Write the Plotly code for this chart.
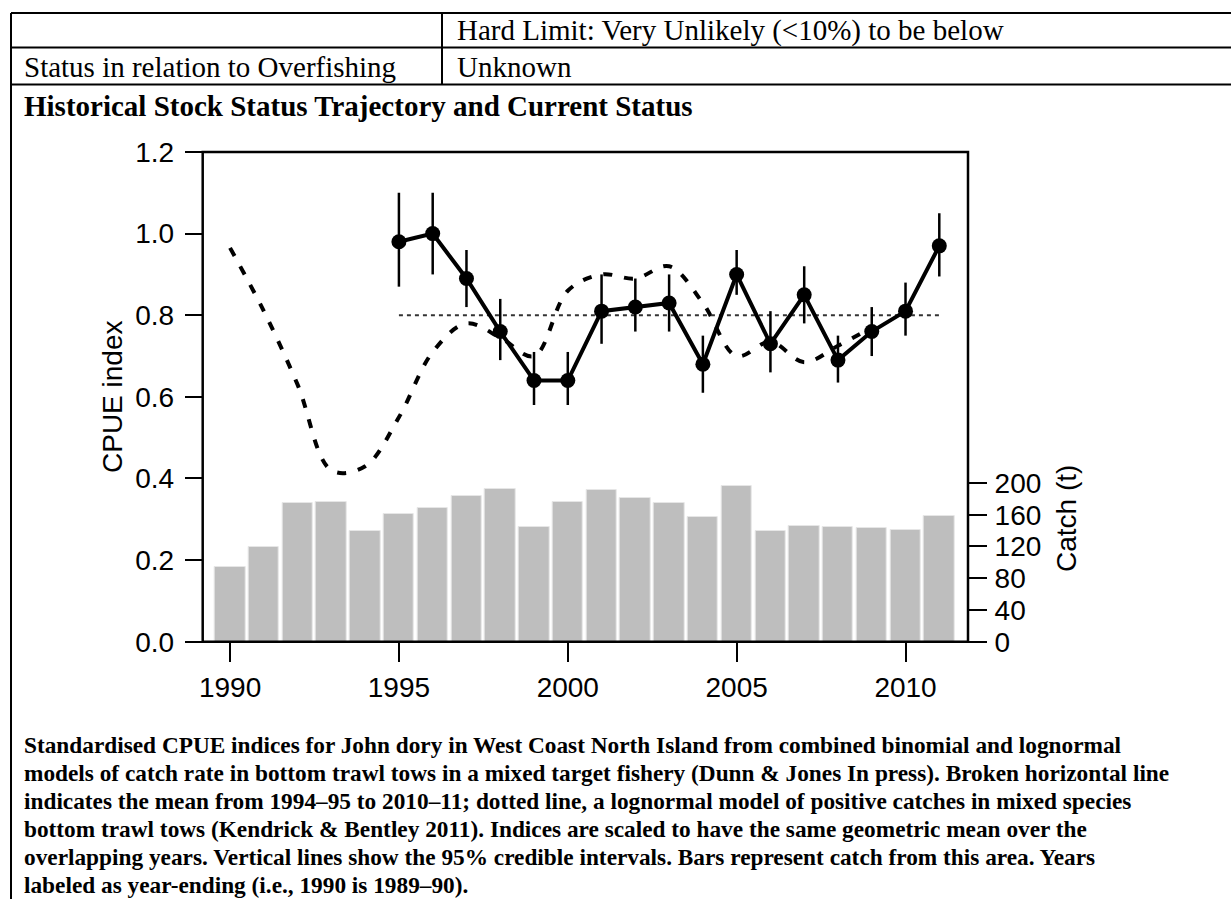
import plotly.graph_objects as go

# ---------------- data ----------------
catch_years = list(range(1990, 2012))
catch_t = [94, 119, 175, 176, 139, 161, 168, 184, 193, 144, 176, 191,
           181, 175, 157, 196, 139, 146, 145, 143, 141, 158]

cpue_years = list(range(1995, 2012))
cpue = [0.98, 1.00, 0.89, 0.76, 0.64, 0.64, 0.81, 0.82, 0.83, 0.68,
        0.90, 0.73, 0.85, 0.69, 0.76, 0.81, 0.97]
cpue_lower = [0.87, 0.90, 0.82, 0.69, 0.58, 0.58, 0.73, 0.76, 0.76, 0.61,
              0.85, 0.66, 0.78, 0.635, 0.70, 0.75, 0.895]
cpue_upper = [1.10, 1.10, 0.96, 0.84, 0.71, 0.71, 0.90, 0.89, 0.90, 0.75,
              0.96, 0.81, 0.92, 0.75, 0.82, 0.88, 1.05]

kb_years = list(range(1990, 2010))
kb_index = [0.965, 0.81, 0.63, 0.42, 0.43, 0.55, 0.71, 0.78, 0.745, 0.70,
            0.86, 0.90, 0.89, 0.92, 0.83, 0.70, 0.735, 0.685, 0.725, 0.77]

mean_years = [1995, 2011]
mean_value = 0.80

x_ticks = [1990, 1995, 2000, 2005, 2010]
cpue_ticks = [0.0, 0.2, 0.4, 0.6, 0.8, 1.0, 1.2]
cpue_ticktext = ["0.0", "0.2", "0.4", "0.6", "0.8", "1.0", "1.2"]
catch_ticks = [0, 40, 80, 120, 160, 200]

table_row1 = "Hard Limit: Very Unlikely (&lt;10%) to be below"
table_row2_left = "Status in relation to Overfishing"
table_row2_right = "Unknown"
section_title = "Historical Stock Status Trajectory and Current Status"
caption_lines = [
    "Standardised CPUE indices for John dory in West Coast North Island from combined binomial and lognormal",
    "models of catch rate in bottom trawl tows in a mixed target fishery (Dunn &amp; Jones In press). Broken horizontal line",
    "indicates the mean from 1994\u201395 to 2010\u201311; dotted line, a lognormal model of positive catches in mixed species",
    "bottom trawl tows (Kendrick &amp; Bentley 2011). Indices are scaled to have the same geometric mean over the",
    "overlapping years. Vertical lines show the 95% credible intervals. Bars represent catch from this area. Years",
    "labeled as year-ending (i.e., 1990 is 1989\u201390).",
]

# ---------------- layout helpers ----------------
W, H = 1231, 899


def px(x):
    return x / W


def py(y):
    return 1 - y / H


SANS = "Liberation Sans, Arial, sans-serif"
SERIF = "Liberation Serif, Times New Roman, serif"

plot_left, plot_right = 202.7, 968.0
plot_top, plot_bottom = 152.0, 641.7

fig = go.Figure()

# bars (catch) on primary y (right side)
fig.add_trace(go.Bar(
    x=catch_years, y=catch_t, width=0.9,
    marker=dict(color="#BEBEBE", line=dict(color="#E6E6E6", width=1)),
    yaxis="y", xaxis="x", showlegend=False, hoverinfo="skip"))

# Kendrick & Bentley (dashed, smoothed)
fig.add_trace(go.Scatter(
    x=kb_years, y=kb_index, mode="lines", yaxis="y2",
    line=dict(color="black", width=4, dash="9px,12px", shape="spline", smoothing=1.0),
    showlegend=False))

# mean dotted line
fig.add_trace(go.Scatter(
    x=mean_years, y=[mean_value, mean_value], mode="lines", yaxis="y2",
    line=dict(color="#333333", width=2, dash="4px,4px"),
    showlegend=False))

# CPUE with CIs
fig.add_trace(go.Scatter(
    x=cpue_years, y=cpue, mode="lines+markers", yaxis="y2",
    line=dict(color="black", width=4),
    marker=dict(color="black", size=15),
    error_y=dict(type="data", symmetric=False,
                 array=[u - v for u, v in zip(cpue_upper, cpue)],
                 arrayminus=[v - l for v, l in zip(cpue, cpue_lower)],
                 width=0, thickness=2.5, color="black"),
    showlegend=False))

fig.update_layout(
    width=W, height=H,
    margin=dict(l=0, r=0, t=0, b=0, pad=0, autoexpand=False),
    paper_bgcolor="white", plot_bgcolor="white",
    bargap=0,
    xaxis=dict(domain=[px(plot_left), px(plot_right)],
               range=[1989.19, 2011.85], automargin=False,
               tickvals=x_ticks, ticks="outside", ticklen=19, tickwidth=2,
               tickcolor="black", showgrid=False, zeroline=False, showline=False,
               tickfont=dict(family=SANS, size=28, color="black"),
               ticklabelstandoff=2),
    yaxis=dict(domain=[py(plot_bottom), py(plot_top)],
               range=[0, 617], side="right", anchor="x", automargin=False,
               tickvals=catch_ticks, ticks="outside", ticklen=18, tickwidth=2,
               tickcolor="black", showgrid=False, zeroline=False, showline=False,
               tickfont=dict(family=SANS, size=28, color="black"),
               ticklabelstandoff=2),
    yaxis2=dict(domain=[py(plot_bottom), py(plot_top)],
                range=[0, 1.2], side="left", overlaying="y", anchor="x", automargin=False,
                tickvals=cpue_ticks, ticktext=cpue_ticktext,
                ticks="outside", ticklen=17, tickwidth=2,
                tickcolor="black", showgrid=False, zeroline=False, showline=False,
                tickfont=dict(family=SANS, size=28, color="black"),
                ticklabelstandoff=5),
)

shapes = []
# plot box
shapes.append(dict(type="rect", xref="paper", yref="paper",
                   x0=px(plot_left), x1=px(plot_right),
                   y0=py(plot_bottom), y1=py(plot_top),
                   line=dict(color="black", width=2.5), layer="above"))
# table lines
for yy in [13, 47.5, 84.5]:
    shapes.append(dict(type="line", xref="paper", yref="paper",
                       x0=px(11), x1=1.0, y0=py(yy), y1=py(yy),
                       line=dict(color="black", width=2)))
shapes.append(dict(type="line", xref="paper", yref="paper",
                   x0=px(11), x1=px(11), y0=py(13), y1=0,
                   line=dict(color="black", width=2)))
shapes.append(dict(type="line", xref="paper", yref="paper",
                   x0=px(442), x1=px(442), y0=py(13), y1=py(84.5),
                   line=dict(color="black", width=2)))
fig.update_layout(shapes=shapes)

ann = []


def add_text(text, x, y, size, family, bold=False, xanchor="left", angle=0):
    t = f"<b>{text}</b>" if bold else text
    ann.append(dict(text=t, x=px(x), y=py(y), xref="paper", yref="paper",
                    xanchor=xanchor, yanchor="middle", showarrow=False,
                    textangle=angle,
                    font=dict(family=family, size=size, color="black")))


add_text(table_row1, 455, 31, 29, SERIF)
add_text(table_row2_left, 22, 67, 29, SERIF)
add_text(table_row2_right, 455, 67, 29, SERIF)
add_text(section_title, 22, 106, 29, SERIF, bold=True)

add_text("CPUE index", 113, 397, 28, SANS, xanchor="center", angle=-90)
add_text("Catch (t)", 1066, 519, 28, SANS, xanchor="center", angle=-90)

for i, line in enumerate(caption_lines):
    add_text(line, 22, 745 + i * 28.0, 23.3, SERIF, bold=True)

fig.update_layout(annotations=ann)

fig.write_html("out.html")
